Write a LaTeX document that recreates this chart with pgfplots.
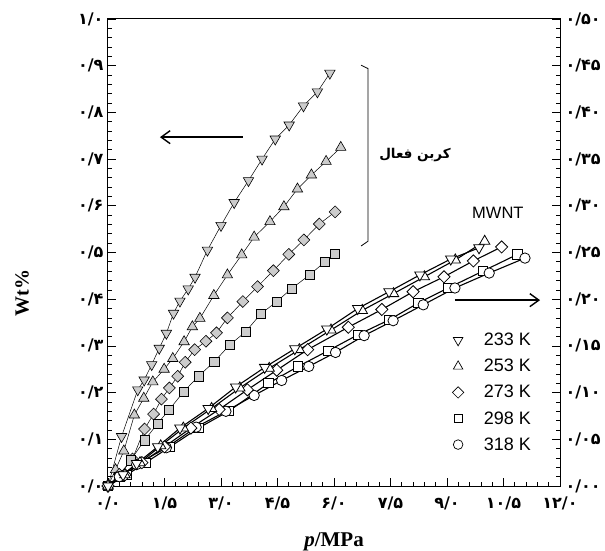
\documentclass[border=0pt]{standalone}
\usepackage{pgfplots}
\pgfplotsset{compat=1.18}
\usepackage{fontspec}
\setmainfont{Liberation Serif}
\setsansfont{Liberation Sans}
\newfontfamily\fa[Script=Arabic]{DejaVu Sans}
\TeXXeTstate=1
\usetikzlibrary{arrows.meta}

\pgfplotsset{
  ac/.style={black, line width=0.5pt, mark options={fill=gray!40, draw=black, line width=0.6pt, solid}},
  acd/.style={black, line width=0.5pt, mark options={fill=gray!40, draw=black, line width=0.6pt, solid, rotate=180}},
  acr/.style={black, line width=0.5pt, mark options={fill=gray!40, draw=black, line width=0.6pt, solid, rotate=45}},
  mw/.style={black, line width=1.1pt, mark options={fill=white, draw=black, line width=0.8pt, solid}},
  mwd/.style={black, line width=1.1pt, mark options={fill=white, draw=black, line width=0.8pt, solid, rotate=180}},
  mwr/.style={black, line width=1.1pt, mark options={fill=white, draw=black, line width=0.8pt, solid, rotate=45}},
  common/.style={scale only axis, width=452pt, height=467pt, xmin=0, xmax=12,
    tick align=inside, major tick length=8pt, minor tick length=4pt,
    axis line style={line width=1pt}, every tick/.style={black, line width=0.7pt},
    clip=false},
}

\begin{document}
\begin{tikzpicture}
\path[use as bounding box] (-108pt,-64pt) rectangle (497pt,486pt);
\begin{axis}[common,
  ymin=0, ymax=1,
  xtick={0,1.5,3,4.5,6,7.5,9,10.5,12},
  xticklabels={۰/۰,۱/۵,۳/۰,۴/۵,۶/۰,۷/۵,۹/۰,۱۰/۵,۱۲/۰},
  ytick={0,0.1,0.2,0.3,0.4,0.5,0.6,0.7,0.8,0.9,1.0},
  yticklabels={۰/۰,۰/۱,۰/۲,۰/۳,۰/۴,۰/۵,۰/۶,۰/۷,۰/۸,۰/۹,۱/۰},
  minor x tick num=4, minor y tick num=4,
  xtick pos=left, ytick pos=left,
  xticklabel style={font=\fa\bfseries\fontsize{16}{16}\selectfont, yshift=-7pt},
  yticklabel style={font=\fa\bfseries\fontsize{16}{16}\selectfont, xshift=-1pt},
]
% Activated carbon 233 K
\addplot[acd, mark=triangle*, mark size=6pt] coordinates {
(0,0)(0.36,0.106)(0.79,0.206)(0.96,0.227)(1.16,0.26)(1.36,0.295)(1.55,0.327)(1.74,0.37)(1.91,0.396)(2.13,0.422)(2.31,0.447)(2.64,0.505)(3.0,0.558)(3.35,0.607)(3.73,0.654)(4.09,0.70)(4.44,0.743)(4.81,0.773)(5.19,0.814)(5.56,0.844)(5.89,0.884)};
% 253 K
\addplot[ac, mark=triangle*, mark size=6pt] coordinates {
(0,0)(0.2,0.035)(0.42,0.075)(0.7,0.152)(0.95,0.188)(1.19,0.223)(1.49,0.25)(1.72,0.273)(2.02,0.309)(2.24,0.341)(2.44,0.359)(2.81,0.408)(3.17,0.452)(3.55,0.495)(3.88,0.533)(4.30,0.566)(4.67,0.598)(5.03,0.636)(5.40,0.666)(5.79,0.695)(6.18,0.725)};
% 273 K
\addplot[acr, mark=square*, mark size=4.2pt] coordinates {
(0,0)(0.3,0.025)(0.65,0.058)(0.97,0.122)(1.21,0.154)(1.42,0.186)(1.63,0.21)(1.85,0.235)(2.05,0.265)(2.3,0.292)(2.6,0.31)(2.88,0.328)(3.17,0.36)(3.58,0.395)(3.97,0.427)(4.39,0.461)(4.80,0.496)(5.20,0.527)(5.61,0.561)(6.03,0.587)};
% 298 K
\addplot[ac, mark=square*, mark size=4.6pt] coordinates {
(0,0)(0.3,0.02)(0.6,0.055)(0.97,0.098)(1.32,0.134)(1.62,0.163)(2.01,0.202)(2.40,0.235)(2.82,0.266)(3.23,0.302)(3.65,0.33)(4.05,0.368)(4.48,0.395)(4.88,0.423)(5.35,0.452)(5.76,0.48)(6.03,0.498)};

% arrows, bracket, labels
\draw[line width=1.4pt, -{Straight Barb[length=9pt,width=13pt,line width=1.4pt]}] (axis cs:3.58,0.747) -- (axis cs:1.38,0.747);
\draw[line width=1.4pt, -{Straight Barb[length=9pt,width=13pt,line width=1.4pt]}] (axis cs:9.21,0.398) -- (axis cs:11.47,0.398);
\draw[line width=0.8pt] (axis cs:6.72,0.901) -- (axis cs:6.90,0.894) -- (axis cs:6.90,0.524) -- (axis cs:6.72,0.514);
\node[font=\fa\bfseries\fontsize{13.5}{13.5}\selectfont] at (axis cs:8.15,0.709) {\beginR کربن فعال\endR};
\node[font=\sffamily\fontsize{16.5}{16.5}\selectfont] at (axis cs:10.35,0.585) {MWNT};
\node[rotate=90, font=\bfseries\fontsize{20}{20}\selectfont] at (axis description cs:-0.19,0.413) {Wt\%};
\node[font=\bfseries\fontsize{21}{21}\selectfont] at (axis description cs:0.5,-0.12) {\textit{p}/MPa};
\end{axis}

\begin{axis}[common,
  ymin=0, ymax=0.5,
  axis x line=none, axis y line*=right,
  ytick={0,0.05,0.1,0.15,0.2,0.25,0.3,0.35,0.4,0.45,0.5},
  yticklabels={۰/۰۰,۰/۰۵,۰/۱۰,۰/۱۵,۰/۲۰,۰/۲۵,۰/۳۰,۰/۳۵,۰/۴۰,۰/۴۵,۰/۵۰},
  minor y tick num=4,
  yticklabel style={font=\fa\bfseries\fontsize{16}{16}\selectfont, xshift=2pt},
  legend style={draw=none, fill=none, at={(rel axis cs:0.755,0.336)}, anchor=north west,
     font=\sffamily\fontsize{18}{18}\selectfont, row sep=8pt},
  legend cell align=left,
]
\addlegendimage{only marks, mark=triangle, mark size=5.5pt, mark options={rotate=180, line width=0.7pt}}
\addlegendentry{\hspace{18pt}233 K}
\addlegendimage{only marks, mark=triangle, mark size=5.5pt, mark options={line width=0.7pt}}
\addlegendentry{\hspace{18pt}253 K}
\addlegendimage{only marks, mark=square, mark size=4pt, mark options={rotate=45, line width=0.7pt}}
\addlegendentry{\hspace{18pt}273 K}
\addlegendimage{only marks, mark=square, mark size=4.2pt, mark options={line width=0.7pt}}
\addlegendentry{\hspace{18pt}298 K}
\addlegendimage{only marks, mark=o, mark size=4.8pt, mark options={line width=0.7pt}}
\addlegendentry{\hspace{18pt}318 K}
% MWNT
\addplot[mw, forget plot, mark=square*, mark size=4.6pt] coordinates {
(0,0)(0.5,0.012)(1.0,0.025)(1.65,0.042)(2.4,0.062)(3.2,0.08)(4.26,0.11)(5.05,0.128)(5.85,0.145)(6.64,0.162)(7.47,0.178)(8.24,0.196)(9.03,0.212)(9.95,0.23)(10.87,0.248)};
\addplot[mw, forget plot, mark=*, mark size=5.2pt] coordinates {
(0,0)(0.3,0.01)(0.76,0.023)(1.55,0.041)(2.34,0.063)(3.13,0.08)(3.88,0.097)(4.61,0.113)(5.33,0.128)(6.04,0.143)(6.8,0.161)(7.57,0.177)(8.37,0.194)(9.21,0.212)(10.12,0.228)(11.07,0.244)};
\addplot[mwr, forget plot, mark=square*, mark size=4.3pt] coordinates {
(0,0)(0.45,0.012)(0.9,0.025)(1.5,0.042)(2.2,0.062)(2.95,0.082)(3.7,0.103)(4.48,0.124)(5.3,0.146)(6.38,0.17)(7.27,0.189)(8.1,0.208)(8.92,0.224)(9.70,0.241)(10.45,0.256)};
\addplot[mw, forget plot, mark=triangle*, mark size=6pt] coordinates {
(0,0)(0.45,0.012)(0.85,0.025)(1.4,0.043)(2.0,0.062)(2.75,0.083)(3.5,0.105)(4.28,0.126)(5.08,0.146)(5.92,0.167)(6.75,0.188)(7.58,0.206)(8.4,0.224)(9.22,0.242)(10.0,0.262)};
\addplot[mwd, forget plot, mark=triangle*, mark size=6pt] coordinates {
(0,0)(0.4,0.012)(0.76,0.024)(1.32,0.042)(1.91,0.062)(2.66,0.083)(3.39,0.106)(4.16,0.127)(4.96,0.147)(5.81,0.168)(6.63,0.19)(7.46,0.208)(8.28,0.226)(9.10,0.243)(9.85,0.255)};
\end{axis}
\end{tikzpicture}
\end{document}
